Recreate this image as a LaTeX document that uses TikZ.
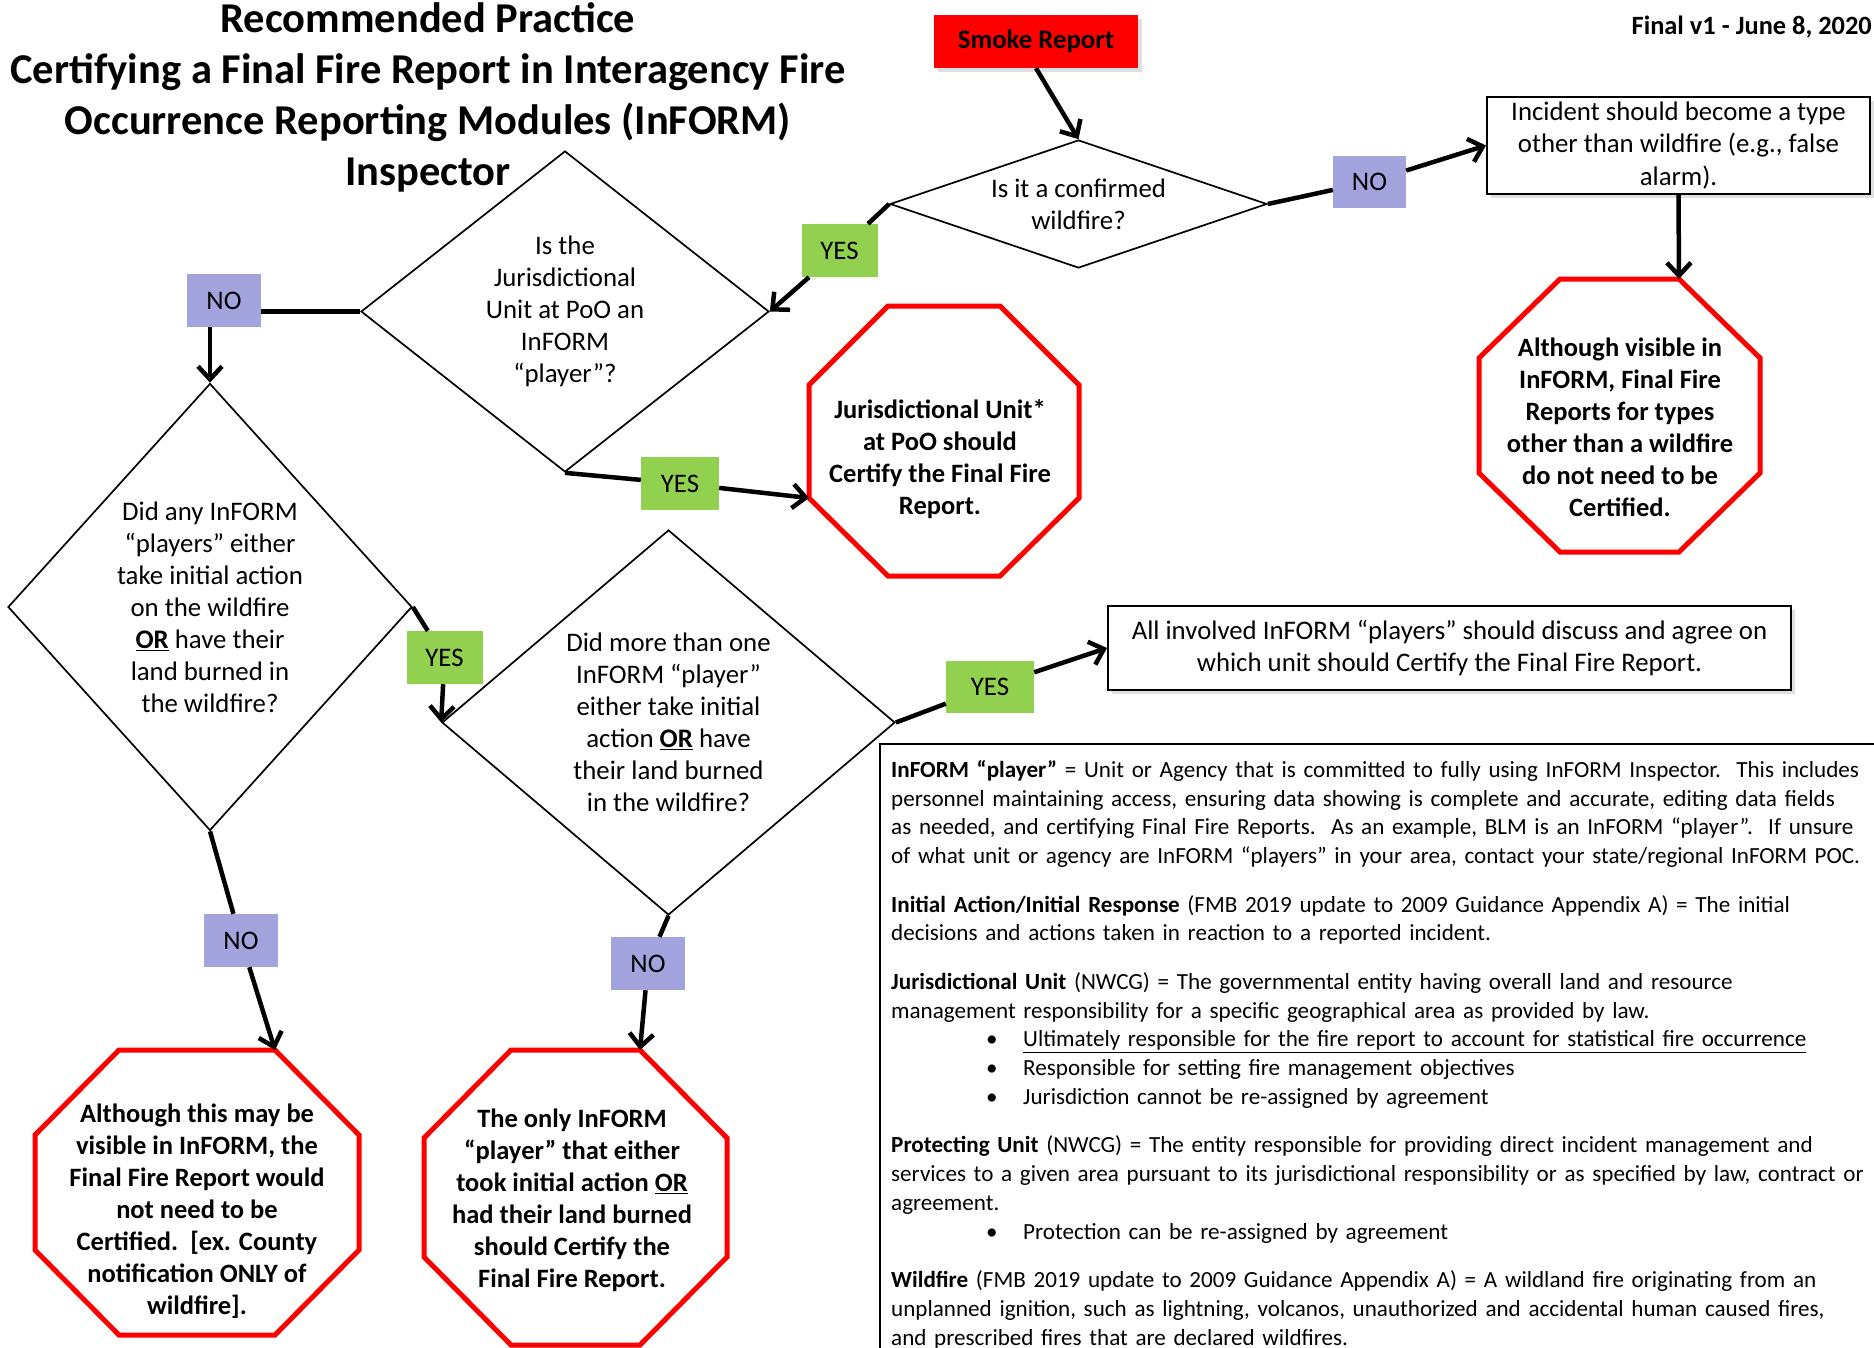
\documentclass[tikz,border=0pt]{standalone}
\usepackage{fontspec}
\setmainfont{Carlito}
\usetikzlibrary{shapes.geometric,arrows.meta,shadows}
\definecolor{yesgreen}{RGB}{146,208,80}
\definecolor{nopurple}{RGB}{163,163,222}
\definecolor{stopred}{RGB}{255,0,0}
\begin{document}
\begin{tikzpicture}[x=1pt,y=-1pt,
  dia/.style={diamond, draw, line width=1.7pt, inner sep=0pt, align=center,
    font=\fontsize{26.8}{32}\selectfont},
  lab/.style={inner sep=0pt, minimum width=76pt, minimum height=53pt,
    font=\fontsize{26.8}{32}\selectfont},
  yeslab/.style={lab, fill=yesgreen},
  nolab/.style={lab, fill=nopurple},
  octline/.style={draw=stopred, line width=5pt, line join=miter},
  octtext/.style={align=center, inner sep=0pt, font=\bfseries\fontsize{26.5}{32}\selectfont},
  conn/.style={line width=4.5pt},
  arr/.style={conn, -{Straight Barb[length=13pt,width=24pt]}},
  plainbox/.style={draw, fill=white, line width=2pt, inner sep=0pt, align=center,
    font=\fontsize{26.8}{32.3}\selectfont},
  softshadow/.style={drop shadow={shadow xshift=4pt, shadow yshift=-4pt, opacity=0.25}},
]
\useasboundingbox (0,0) rectangle (1874,1347);

% title and date
\node[align=center, inner sep=0pt, anchor=north, font=\bfseries\fontsize{42.5}{51}\selectfont] (title) at (428,2)
  {Recommended Practice\\Certifying a Final Fire Report in Interagency Fire\\Occurrence Reporting Modules (InFORM)\\Inspector};
\node[anchor=east, inner sep=0pt, font=\bfseries\fontsize{26.4}{31}\selectfont] (date) at (1872,27) {Final v1 - June 8, 2020};

% start and boxes
\node[fill=stopred, minimum width=204pt, minimum height=53pt, inner sep=0pt,
  font=\bfseries\fontsize{26.8}{31}\selectfont, softshadow] (smoke) at (1036,41.5) {Smoke Report};
\node[plainbox, minimum width=383pt, minimum height=97pt, softshadow] (inc) at (1678.5,145.5)
  {Incident should become a type\\other than wildfire (e.g., false\\alarm).};
\node[plainbox, minimum width=683pt, minimum height=84pt, softshadow] (allb) at (1449.5,648)
  {All involved InFORM “players” should discuss and agree on\\which unit should Certify the Final Fire Report.};

% decisions
\node[dia, minimum width=377pt, minimum height=128pt, aspect=2.9] (d1) at (1078.5,204)
  {Is it a confirmed\\wildfire?};
\node[dia, minimum width=408pt, minimum height=321pt, aspect=1.275] (d2) at (565,311.5)
  {Is the\\Jurisdictional\\Unit at PoO an\\InFORM\\“player”?};
\node[dia, minimum width=404pt, minimum height=447pt, aspect=0.9] (d3) at (210,607)
  {Did any InFORM\\“players” either\\take initial action\\on the wildfire\\\textbf{\underline{OR}} have their\\land burned in\\the wildfire?};
\node[dia, minimum width=453pt, minimum height=385pt, aspect=1.177] (d4) at (668.5,722.5)
  {Did more than one\\InFORM “player”\\either take initial\\action \textbf{\underline{OR}} have\\their land burned\\in the wildfire?};

% stop octagons
\coordinate (octAtr) at (1679,279);
\coordinate (octBbl) at (809,498);
\coordinate (octCtr) at (275,1050);
\coordinate (octDtr) at (640,1050);
\draw[octline] (1560,279) -- (octAtr) -- (1760,358) -- (1760,473) -- (1679,552) -- (1560,552) -- (1479,473) -- (1479,358) -- cycle;
\draw[octline] (888,306) -- (1000,306) -- (1079,385) -- (1079,498) -- (1000,576) -- (888,576) -- (octBbl) -- (809,385) -- cycle;
\draw[octline] (119,1050) -- (octCtr) -- (359,1135) -- (359,1250) -- (275,1335) -- (119,1335) -- (35,1250) -- (35,1135) -- cycle;
\draw[octline] (511,1050) -- (octDtr) -- (727,1138) -- (727,1257) -- (640,1345) -- (511,1345) -- (424,1257) -- (424,1138) -- cycle;
\node[octtext] (tA) at (1620,427.5) {Although visible in\\InFORM, Final Fire\\Reports for types\\other than a wildfire\\do not need to be\\Certified.};
\node[octtext] (tB) at (940,459) {Jurisdictional Unit*\\at PoO should\\Certify the Final Fire\\Report.};
\node[octtext] (tC) at (197,1211) {Although this may be\\visible in InFORM, the\\Final Fire Report would\\not need to be\\Certified.\ \ [ex. County\\notification ONLY of\\wildfire].};
\node[octtext] (tD) at (572,1200) {The only InFORM\\“player” that either\\took initial action \underline{OR}\\had their land burned\\should Certify the\\Final Fire Report.};

% labels
\node[nolab, minimum width=73pt, minimum height=52pt] (no1) at (1369.5,182) {NO};
\node[yeslab] (yes1) at (839.5,250.5) {YES};
\node[nolab, minimum width=74pt] (no2) at (224,300.5) {NO};
\node[yeslab, minimum width=78pt] (yes2) at (680,483.5) {YES};
\node[yeslab] (yes3) at (444.5,657.5) {YES};
\node[yeslab, minimum width=88pt, minimum height=52pt] (yes4) at (990,687) {YES};
\node[nolab, minimum width=74pt] (no3) at (241,940.5) {NO};
\node[nolab, minimum width=74pt] (no4) at (648,963.5) {NO};

% connectors
\draw[arr] (smoke.south) -- (d1.north);
\draw[conn] (d1.east) -- (no1);
\draw[arr] (no1) -- (inc.west);
\draw[arr] (inc.south) -- (octAtr);
\draw[conn] (d1.west) -- (yes1);
\draw[arr] (yes1) -- (d2.east);
\draw[conn] (d2.west) -- (d2.west -| no2.east);
\draw[arr] (d3.north |- no2.south) -- (d3.north);
\draw[conn] (d2.south) -- (yes2);
\draw[arr] (yes2) -- (octBbl);
\draw[conn] (d3.east) -- (yes3);
\draw[arr] (yes3) -- (d4.west);
\draw[conn] (d4.east) -- (yes4);
\draw[arr] (yes4) -- (allb.west);
\draw[conn] (d3.south) -- (no3);
\draw[arr] (no3) -- (octCtr);
\draw[conn] (d4.south) -- (no4);
\draw[arr] (no4) -- (octDtr);

% definitions
\draw[line width=2.5pt] (880,744) rectangle (1890,1380);
\node[anchor=north west, inner xsep=11pt, inner ysep=0pt,
  text width=1000pt, align=left,
  font=\fontsize{23.1}{28.75}\selectfont] (defs) at (880,760) {%
\textbf{InFORM “player”} = Unit or Agency that is committed to fully using InFORM Inspector.\ \ This includes\\
personnel maintaining access, ensuring data showing is complete and accurate, editing data fields\\
as needed, and certifying Final Fire Reports.\ \ As an example, BLM is an InFORM “player”.\ \ If unsure\\
of what unit or agency are InFORM “players” in your area, contact your state/regional InFORM POC.\\[19.8pt]
\textbf{Initial Action/Initial Response} (FMB 2019 update to 2009 Guidance Appendix A) = The initial\\
decisions and actions taken in reaction to a reported incident.\\[19.8pt]
\textbf{Jurisdictional Unit} (NWCG) = The governmental entity having overall land and resource\\
management responsibility for a specific geographical area as provided by law.\\
\hspace*{95pt}\makebox[37pt][l]{•}\underline{Ultimately responsible for the fire report to account for statistical fire occurrence}\\
\hspace*{95pt}\makebox[37pt][l]{•}Responsible for setting fire management objectives\\
\hspace*{95pt}\makebox[37pt][l]{•}Jurisdiction cannot be re-assigned by agreement\\[19.8pt]
\textbf{Protecting Unit} (NWCG) = The entity responsible for providing direct incident management and\\
services to a given area pursuant to its jurisdictional responsibility or as specified by law, contract or\\
agreement.\\
\hspace*{95pt}\makebox[37pt][l]{•}Protection can be re-assigned by agreement\\[19.8pt]
\textbf{Wildfire} (FMB 2019 update to 2009 Guidance Appendix A) = A wildland fire originating from an\\
unplanned ignition, such as lightning, volcanos, unauthorized and accidental human caused fires,\\
and prescribed fires that are declared wildfires.};
\end{tikzpicture}
\end{document}
